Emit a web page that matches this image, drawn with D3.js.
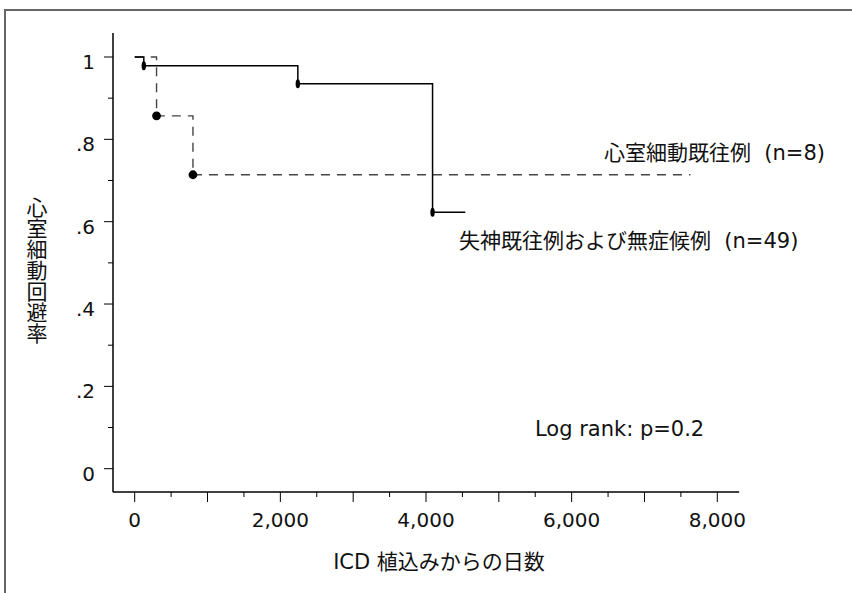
<!DOCTYPE html>
<html>
<head>
<meta charset="utf-8">
<script src="https://cdn.jsdelivr.net/npm/d3@7"></script>
<style>
  body { margin: 0; background: #fff; }
  svg text { font-family: "DejaVu Sans", "Noto Sans CJK JP", sans-serif; fill: #111; }
</style>
</head>
<body>
<svg id="chart" width="852" height="593"></svg>
<script>
// survival curves (days, survival rate)
const noVfDays = [0, 125, 2240, 4090, 4540];      // 失神既往例および無症候例 (n=49)
const noVfSurv = [1, 0.979, 0.935, 0.623, 0.623];
const noVfMarks = [125, 2240, 4090];

const vfDays = [0, 300, 800, 7630];               // 心室細動既往例 (n=8)
const vfSurv = [1, 0.857, 0.714, 0.714];
const vfMarks = [300, 800];

// ticks
const xMajor = [0, 1000, 2000, 3000, 4000, 5000, 6000, 7000, 8000];
const xMinor = [500, 1500, 2500, 3500, 4500, 5500, 6500, 7500];
const xLabels = [0, 2000, 4000, 6000, 8000];
const yMajor = [0, 0.2, 0.4, 0.6, 0.8, 1];
const yMinor = [0.1, 0.3, 0.5, 0.7, 0.9];

const svg = d3.select("#chart");

// scales
const x = d3.scaleLinear().domain([0, 8000]).range([134.7, 717.3]);
const y = d3.scaleLinear().domain([0, 1]).range([468.7, 57]);
const axisY = 492, axisX = 113;

// frame (top + left only)
svg.append("path")
    .attr("d", "M5,593 L5,10 L852,10")
    .attr("fill", "none")
    .attr("stroke", "#666")
    .attr("stroke-width", 2);

// axes
const gx = svg.append("g").attr("transform", "translate(0," + axisY + ")");
gx.append("line")
    .attr("x1", x(-296)).attr("x2", x(8300))
    .attr("stroke", "#000").attr("stroke-width", 1.5);
gx.selectAll("line.maj").data(xMajor).enter().append("line")
    .attr("x1", d => x(d)).attr("x2", d => x(d))
    .attr("y1", 0).attr("y2", 10)
    .attr("stroke", "#000").attr("stroke-width", 1);
gx.selectAll("line.min").data(xMinor).enter().append("line")
    .attr("x1", d => x(d)).attr("x2", d => x(d))
    .attr("y1", 0).attr("y2", 5)
    .attr("stroke", "#000").attr("stroke-width", 1);
gx.selectAll("text").data(xLabels).enter().append("text")
    .attr("x", d => x(d)).attr("y", 35)
    .attr("text-anchor", "middle")
    .style("font-size", "20px")
    .text(d => d3.format(",")(d));

const gy = svg.append("g").attr("transform", "translate(" + axisX + ",0)");
gy.append("line")
    .attr("y1", y(-0.057)).attr("y2", y(1.058))
    .attr("stroke", "#000").attr("stroke-width", 1.5);
gy.selectAll("line.maj").data(yMajor).enter().append("line")
    .attr("y1", d => y(d)).attr("y2", d => y(d))
    .attr("x1", -9).attr("x2", 0)
    .attr("stroke", "#000").attr("stroke-width", 1);
gy.selectAll("line.min").data(yMinor).enter().append("line")
    .attr("y1", d => y(d)).attr("y2", d => y(d))
    .attr("x1", -5).attr("x2", 0)
    .attr("stroke", "#000").attr("stroke-width", 1);
gy.selectAll("text").data(yMajor).enter().append("text")
    .attr("x", -18).attr("y", d => y(d) + 12)
    .attr("text-anchor", "end")
    .style("font-size", "20px")
    .text(d => d === 0 ? "0" : d === 1 ? "1" : String(d).replace(/^0/, ""));

// curves
const line = d3.line()
    .x(d => x(d[0]))
    .y(d => y(d[1]))
    .curve(d3.curveStepAfter);

svg.append("path")
    .datum(d3.zip(vfDays, vfSurv))
    .attr("d", line)
    .attr("fill", "none")
    .attr("stroke", "#444")
    .attr("stroke-width", 1.4)
    .attr("stroke-dasharray", "9,7");

svg.append("path")
    .datum(d3.zip(noVfDays, noVfSurv))
    .attr("d", line)
    .attr("fill", "none")
    .attr("stroke", "#000")
    .attr("stroke-width", 1.5);

// event marks
const survAt = (days, surv, t) => surv[days.indexOf(t)];
svg.selectAll("ellipse.novf").data(noVfMarks).enter().append("ellipse")
    .attr("cx", d => x(d))
    .attr("cy", d => y(survAt(noVfDays, noVfSurv, d)))
    .attr("rx", 2.2).attr("ry", 4.5)
    .attr("fill", "#000");
svg.selectAll("circle.vf").data(vfMarks).enter().append("circle")
    .attr("cx", d => x(d))
    .attr("cy", d => y(survAt(vfDays, vfSurv, d)))
    .attr("r", 4.4)
    .attr("fill", "#000");

// labels
svg.append("text")
    .attr("x", 604).attr("y", 160)
    .style("font-size", "21px")
    .text("心室細動既往例\u00a0\u00a0(n=8)");
svg.append("text")
    .attr("x", 459).attr("y", 248)
    .style("font-size", "21px")
    .text("失神既往例および無症候例\u00a0\u00a0(n=49)");
svg.append("text")
    .attr("x", 535).attr("y", 436)
    .style("font-size", "21px")
    .text("Log rank: p=0.2");

// axis titles
svg.append("text")
    .attr("x", 439).attr("y", 569)
    .attr("text-anchor", "middle")
    .style("font-size", "21px")
    .text("ICD 植込みからの日数");
svg.append("text")
    .attr("x", 35).attr("y", 270)
    .attr("text-anchor", "middle")
    .style("writing-mode", "vertical-rl")
    .style("font-size", "21px")
    .text("心室細動回避率");
</script>
</body>
</html>
